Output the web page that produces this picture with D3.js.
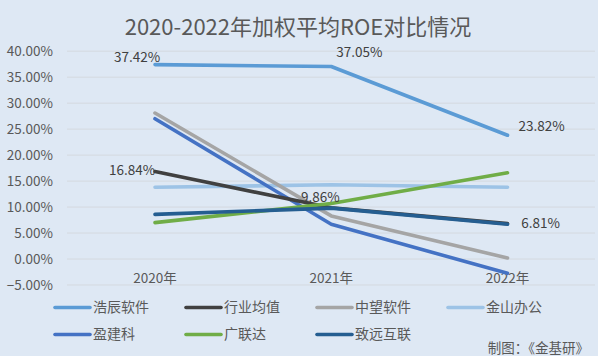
<!DOCTYPE html>
<html><head><meta charset="utf-8">
<script src="https://cdn.jsdelivr.net/npm/d3@7"></script>
<style>
body{margin:0;padding:0;background:#dee8f4;}
svg{display:block;}
text{font-family:"Noto Sans CJK SC","Noto Sans",sans-serif;}
</style></head>
<body><svg id="c" width="598" height="356"></svg>
<script>
const years = ["2020年","2021年","2022年"];
const seriesNames = ["浩辰软件","行业均值","中望软件","金山办公","盈建科","广联达","致远互联"];
const haochen = [37.42, 37.05, 23.82];
const industryAvg = [16.84, 9.86, 6.81];
const zhongwang = [28.1, 8.3, 0.2];
const jinshan = [13.8, 14.3, 13.8];
const yingjianke = [27.0, 6.7, -2.75];
const guanglianda = [7.0, 10.7, 16.6];
const zhiyuan = [8.6, 9.8, 6.7];
const yTicks = [-5,0,5,10,15,20,25,30,35,40];
const colors = ["#5b9bd5","#404040","#a5a5a5","#9dc3e6","#4472c4","#70ad47","#255e91"];
const allValues = [haochen, industryAvg, zhongwang, jinshan, yingjianke, guanglianda, zhiyuan];

const svg = d3.select("#c");
svg.append("rect").attr("width",598).attr("height",356).attr("fill","#dee8f4");

const x = d3.scalePoint().domain(years).range([155,507.5]);
const y = d3.scaleLinear().domain([-5,40]).range([285,51.2]);

// title
svg.append("text").attr("x",298).attr("y",34.5).attr("text-anchor","middle")
  .attr("font-size",22).attr("fill","#595959").text("2020-2022年加权平均ROE对比情况");

// grid
svg.append("g").selectAll("line").data(yTicks).join("line")
  .attr("x1",67).attr("x2",595).attr("y1",d=>y(d)).attr("y2",d=>y(d))
  .attr("stroke","#d4d9df").attr("stroke-width",1);

// y axis labels
svg.append("g").selectAll("text").data(yTicks).join("text")
  .attr("x",53).attr("y",d=>y(d)).attr("dy","0.35em").attr("text-anchor","end")
  .attr("font-size",13.5).attr("fill","#595959").text(d=>d3.format(".2f")(d)+"%");

// x labels
svg.append("g").selectAll("text").data(years).join("text")
  .attr("x",d=>x(d)).attr("y",278).attr("dy","0.35em").attr("text-anchor","middle")
  .attr("font-size",13.5).attr("fill","#595959").text(d=>d);

// lines
const line = d3.line().x((d,i)=>x(years[i])).y(d=>y(d));
const drawOrder = [3,2,4,1,5,6,0];
svg.append("g").selectAll("path").data(drawOrder).join("path")
  .attr("d",k=>line(allValues[k])).attr("fill","none")
  .attr("stroke",k=>colors[k]).attr("stroke-width",3.6).attr("stroke-linecap","round").attr("stroke-linejoin","round");

// data labels
const labels = [
  {s:0,i:0,dx:-18,dy:-7,a:"middle"},
  {s:0,i:1,dx:28,dy:-14,a:"middle"},
  {s:0,i:2,dx:34,dy:-9,a:"middle"},
  {s:1,i:0,dx:-23,dy:-1,a:"middle"},
  {s:1,i:1,dx:-11,dy:-11,a:"middle"},
  {s:1,i:2,dx:33,dy:0,a:"middle"}
];
svg.append("g").selectAll("text").data(labels).join("text")
  .attr("x",d=>x(years[d.i])+d.dx).attr("y",d=>y(allValues[d.s][d.i])+d.dy).attr("dy","0.35em")
  .attr("text-anchor",d=>d.a).attr("font-size",13.5).attr("fill","#404040")
  .text(d=>d3.format(".2f")(allValues[d.s][d.i])+"%");

// legend
const lg = svg.append("g").selectAll("g").data(seriesNames).join("g")
  .attr("transform",(d,i)=>`translate(${55+(i%4)*131},${i<4?307.5:334.5})`);
lg.append("line").attr("x1",0).attr("x2",35).attr("stroke",(d,i)=>colors[i])
  .attr("stroke-width",3.6).attr("stroke-linecap","round");
lg.append("text").attr("x",38).attr("dy","0.35em").attr("font-size",14).attr("fill","#595959").text(d=>d);

// credit
svg.append("text").attr("x",589).attr("y",348).attr("dy","0.35em").attr("text-anchor","end")
  .attr("font-size",13.5).attr("fill","#595959").text("制图：《金基研》");
</script></body></html>
